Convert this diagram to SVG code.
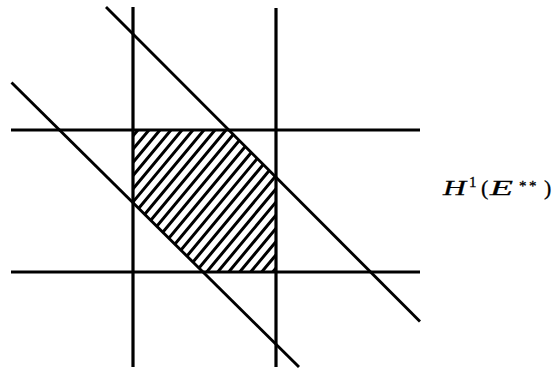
<svg xmlns="http://www.w3.org/2000/svg" width="553" height="369" viewBox="0 0 553 369">
<style>
.ln{stroke:#000;stroke-width:3.2;fill:none;stroke-linecap:butt}
.dg{stroke:#000;stroke-width:2.9;fill:none}
.ht{stroke:#000;stroke-width:3;fill:none}
.lbl{font-family:"Liberation Serif","DejaVu Serif",serif;font-size:22px;fill:#000;stroke:#000;stroke-width:0.3}
.it{font-style:italic}
.sup{font-size:15px}
</style>
<defs>
<clipPath id="cp"><polygon points="133,130 228,130 276,177 276,272 203,272 133,203"/></clipPath>
</defs>
<g id="region">
<path class="ht" clip-path="url(#cp)" d="M148,118L-2,298M159,118L9,298M170,118L20,298M181,118L31,298M192,118L42,298M203,118L53,298M214,118L64,298M225,118L75,298M236,118L86,298M247,118L97,298M258,118L108,298M269,118L119,298M280,118L130,298M291,118L141,298M302,118L152,298M313,118L163,298M324,118L174,298M335,118L185,298M346,118L196,298M357,118L207,298M368,118L218,298M379,118L229,298M390,118L240,298M401,118L251,298"/>
</g>
<g id="connectors">
<line class="ln" x1="133" y1="7" x2="133" y2="367"/>
<line class="ln" x1="276" y1="8" x2="276" y2="367"/>
<line class="ln" x1="11" y1="130" x2="420" y2="130"/>
<line class="ln" x1="11" y1="272" x2="420" y2="272"/>
<line class="dg" x1="106" y1="7" x2="420" y2="321.5"/>
<line class="dg" x1="11.5" y1="82.5" x2="299" y2="367"/>
</g>
<g id="label">
<text class="lbl it" x="443" y="195" textLength="23" lengthAdjust="spacingAndGlyphs">H</text>
<text class="lbl sup" x="469" y="187">1</text>
<text class="lbl" x="481" y="195">(</text>
<text class="lbl it" x="490" y="195" textLength="23" lengthAdjust="spacingAndGlyphs">E</text>
<text class="lbl sup" x="519" y="191">*</text>
<text class="lbl sup" x="529" y="191">*</text>
<text class="lbl" x="544" y="195">)</text>
</g>
</svg>
